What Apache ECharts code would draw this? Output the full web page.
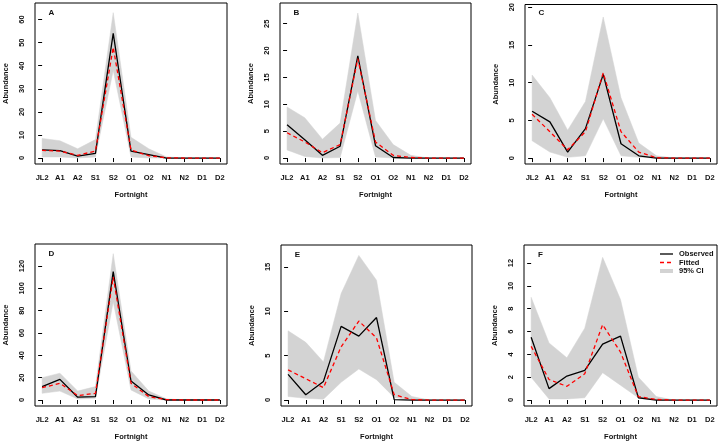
<!DOCTYPE html>
<html><head><meta charset="utf-8">
<script src="https://cdn.jsdelivr.net/npm/echarts@6/dist/echarts.min.js"></script>
<style>html,body{margin:0;padding:0;background:#fff}#c{width:719px;height:443px}</style>
</head><body><div id="c"></div>
<script>
const fortnights = ['JL2','A1','A2','S1','S2','O1','O2','N1','N2','D1','D2'];

const observedA = [3.5, 3.2, 0.8, 2.0, 54, 3.0, 1.5, 0, 0, 0, 0];
const fittedA   = [3.3, 3.0, 1.2, 3.0, 48, 3.5, 1.0, 0.1, 0, 0, 0];
const lowerA    = [0.5, 0.5, 0.0, 0.5, 38, 0.5, 0.0, 0, 0, 0, 0];
const upperA    = [8.5, 7.5, 4.0, 8.0, 63, 9.0, 4.0, 0.5, 0, 0, 0];
const ticksA    = [0, 10, 20, 30, 40, 50, 60];

const observedB = [6.2, 3.4, 0.5, 2.2, 19.0, 2.3, 0.1, 0, 0, 0, 0];
const fittedB   = [4.7, 3.0, 1.0, 2.5, 18.5, 3.0, 0.5, 0.1, 0, 0, 0];
const lowerB    = [1.5, 0.3, 0.0, 0.1, 12.5, 0.2, 0.0, 0, 0, 0, 0];
const upperB    = [9.5, 7.5, 3.5, 6.5, 27.0, 7.0, 2.5, 0.5, 0, 0, 0];
const ticksB    = [0, 5, 10, 15, 20, 25];

const observedC = [6.2, 4.8, 0.8, 3.9, 11.1, 1.9, 0.3, 0, 0, 0, 0];
const fittedC   = [5.8, 3.5, 1.1, 3.5, 11.3, 3.5, 0.8, 0.05, 0, 0, 0];
const lowerC    = [2.3, 0.8, 0.1, 0.3, 5.2, 0.3, 0.1, 0, 0, 0, 0];
const upperC    = [11.0, 8.0, 3.7, 7.5, 18.7, 8.0, 2.0, 0.3, 0, 0, 0];
const ticksC    = [0, 5, 10, 15, 20];

const observedD = [12, 18.5, 2.5, 3, 115, 17, 4.5, 0, 0, 0, 0];
const fittedD   = [11, 15, 4, 6, 110, 15, 3, 0.3, 0, 0, 0];
const lowerD    = [6, 8, 1, 1.5, 88, 9, 1, 0, 0, 0, 0];
const upperD    = [20, 24, 8, 12, 131, 26, 8, 1, 0, 0, 0];
const ticksD    = [0, 20, 40, 60, 80, 100, 120];

const observedE = [2.9, 0.6, 2.1, 8.3, 7.2, 9.3, 0.05, 0, 0, 0, 0];
const fittedE   = [3.4, 2.4, 1.4, 6.0, 8.9, 7.0, 0.6, 0.05, 0, 0, 0];
const lowerE    = [0.4, 0.2, 0.1, 2.0, 3.5, 2.3, 0.3, 0, 0, 0, 0];
const upperE    = [7.8, 6.5, 4.3, 12.0, 16.3, 13.5, 2.0, 0.4, 0, 0, 0];
const ticksE    = [0, 5, 10, 15];

const observedF = [5.5, 1.0, 2.1, 2.6, 4.9, 5.6, 0.2, 0, 0, 0, 0];
const fittedF   = [4.7, 1.8, 1.2, 2.3, 6.6, 4.2, 0.3, 0.05, 0, 0, 0];
const lowerF    = [2.0, 0.1, 0.1, 0.2, 2.4, 1.3, 0.2, 0, 0, 0, 0];
const upperF    = [9.0, 5.0, 3.7, 6.3, 12.5, 8.8, 2.0, 0.3, 0, 0, 0];
const ticksF    = [0, 2, 4, 6, 8, 10, 12];

const panels = [
  {label:'A', obs:observedA, fit:fittedA, lo:lowerA, up:upperA, ticks:ticksA, yr:64.6,  box:{left:35, top:3,   width:192, height:161}},
  {label:'B', obs:observedB, fit:fittedB, lo:lowerB, up:upperB, ticks:ticksB, yr:27.75, box:{left:280, top:3,  width:191, height:161}},
  {label:'C', obs:observedC, fit:fittedC, lo:lowerC, up:upperC, ticks:ticksC, yr:19.57, box:{left:525, top:3,  width:192, height:161}},
  {label:'D', obs:observedD, fit:fittedD, lo:lowerD, up:upperD, ticks:ticksD, yr:134.3, box:{left:35, top:244, width:192, height:162}},
  {label:'E', obs:observedE, fit:fittedE, lo:lowerE, up:upperE, ticks:ticksE, yr:16.8,  box:{left:281, top:245, width:191, height:161}},
  {label:'F', obs:observedF, fit:fittedF, lo:lowerF, up:upperF, ticks:ticksF, yr:13.06, box:{left:524, top:245, width:193, height:161}}
];

const FONT = '"Liberation Sans", Arial, sans-serif';
const txt = {fontFamily: FONT, fontWeight: 'bold', fontSize: 7.5, color: '#111'};

const grid = [], xAxis = [], yAxis = [], series = [], graphic = [];
const idx = fortnights.map((_, i) => i);

panels.forEach((p, k) => {
  grid.push(Object.assign({show: true, borderColor: '#000', borderWidth: 1, backgroundColor: 'transparent', containLabel: false}, p.box));
  xAxis.push({
    type: 'value', gridIndex: k, min: -0.4, max: 10.4,
    axisLine: {show: false}, splitLine: {show: false},
    axisTick: {show: true, inside: false, length: 4, lineStyle: {color: '#000', width: 1}, customValues: idx},
    axisLabel: Object.assign({margin: 10, customValues: idx, formatter: v => fortnights[Math.round(v)]}, txt),
    name: 'Fortnight', nameLocation: 'middle', nameGap: 27, nameTextStyle: Object.assign({}, txt)
  });
  yAxis.push({
    type: 'value', gridIndex: k, min: -0.04 * p.yr, max: 1.04 * p.yr,
    axisLine: {show: false}, splitLine: {show: false},
    axisTick: {show: true, inside: false, length: 4, lineStyle: {color: '#000', width: 1}, customValues: p.ticks},
    axisLabel: Object.assign({margin: 9, rotate: 90, customValues: p.ticks, align: 'center'}, txt),
    name: 'Abundance', nameLocation: 'middle', nameGap: 25, nameTextStyle: Object.assign({}, txt)
  });
  const lo = p.lo, up = p.up;
  series.push({
    type: 'custom', xAxisIndex: k, yAxisIndex: k, z: 1, clip: true, silent: true,
    data: up.map((v, i) => [i, v, lo[i]]),
    encode: {x: 0, y: [1, 2]},
    renderItem: function (params, api) {
      if (params.dataIndex !== 0) return null;
      const pts = [];
      for (let i = 0; i < up.length; i++) pts.push(api.coord([i, up[i]]));
      for (let i = lo.length - 1; i >= 0; i--) pts.push(api.coord([i, lo[i]]));
      return {type: 'polygon', shape: {points: pts}, style: {fill: '#d3d3d3', stroke: '#d3d3d3', lineWidth: 0.5}};
    }
  });
  series.push({
    type: 'line', xAxisIndex: k, yAxisIndex: k, z: 3, symbol: 'none', silent: true,
    data: p.obs.map((v, i) => [i, v]),
    lineStyle: {color: '#000', width: 1.3}
  });
  series.push({
    type: 'line', xAxisIndex: k, yAxisIndex: k, z: 4, symbol: 'none', silent: true,
    data: p.fit.map((v, i) => [i, v]),
    lineStyle: {color: '#ff0000', width: 1.3, type: [4, 3]}
  });
  graphic.push({
    type: 'text', x: p.box.left + 16.5, y: p.box.top + 9.5,
    style: {text: p.label, font: 'bold 8px ' + FONT, fill: '#111', textAlign: 'center', textVerticalAlign: 'middle'}
  });
});

// legend in panel F
const lgX = 660, lgX2 = 673;
graphic.push(
  {type: 'line', shape: {x1: lgX, y1: 254, x2: lgX2, y2: 254}, style: {stroke: '#000', lineWidth: 1.3}},
  {type: 'line', shape: {x1: lgX, y1: 262.5, x2: lgX2, y2: 262.5}, style: {stroke: '#ff0000', lineWidth: 1.3, lineDash: [4, 3]}},
  {type: 'line', shape: {x1: lgX, y1: 271, x2: lgX2, y2: 271}, style: {stroke: '#d3d3d3', lineWidth: 4}},
  {type: 'text', x: 679, y: 254, style: {text: 'Observed', font: 'bold 7.5px ' + FONT, fill: '#111', textVerticalAlign: 'middle'}},
  {type: 'text', x: 679, y: 262.5, style: {text: 'Fitted', font: 'bold 7.5px ' + FONT, fill: '#111', textVerticalAlign: 'middle'}},
  {type: 'text', x: 679, y: 271, style: {text: '95% CI', font: 'bold 7.5px ' + FONT, fill: '#111', textVerticalAlign: 'middle'}}
);

const chart = echarts.init(document.getElementById('c'), null, {renderer: 'canvas'});
chart.setOption({animation: false, backgroundColor: '#fff', grid, xAxis, yAxis, series, graphic});
</script></body></html>
